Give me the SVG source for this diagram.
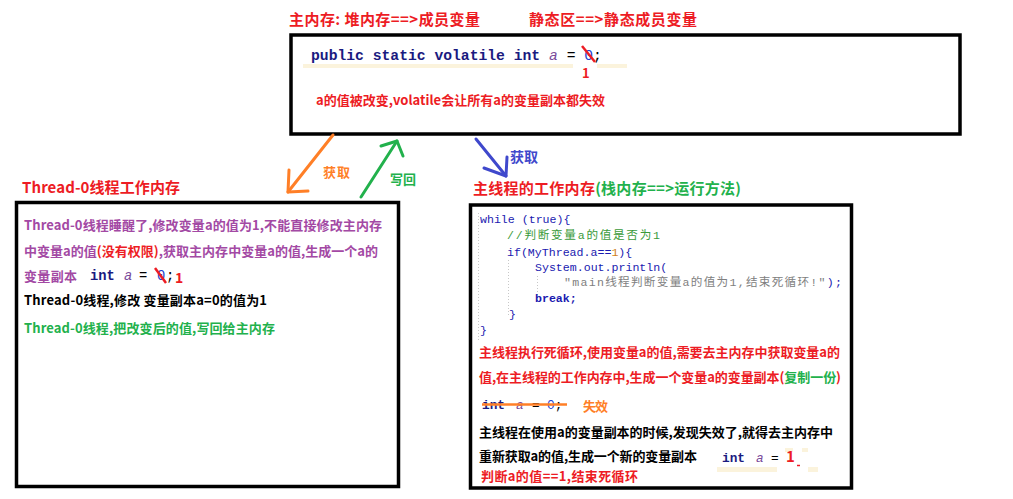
<svg xmlns="http://www.w3.org/2000/svg" width="1013" height="499" viewBox="0 0 1013 499">
<style>
.box{fill:none;stroke:#000;stroke-width:3.5}
.t{font-family:"Noto Sans CJK SC","Microsoft YaHei",sans-serif;font-weight:bold}
.code{font-family:"Liberation Mono","Noto Sans CJK SC",monospace}
.red{fill:#ED1C24}
.purple{fill:#A349A4}
.green{fill:#22B14C}
.orange{fill:#FF7F27}
.blk{fill:#000}
.kw{fill:#1a1a80;font-weight:bold}
.var{fill:#7a4a9a;font-style:italic}
.num{fill:#2040d0}
.hl{fill:#fbf3dc}
.guide{stroke:#c8c8c8;stroke-width:1;stroke-dasharray:1 2}
.arrow{fill:none;stroke-width:3;stroke-linecap:round;stroke-linejoin:round}
</style>
<rect width="1013" height="499" fill="#fff"/>

<g id="main-memory">
  <text class="t red" x="289" y="25" font-size="15" textLength="191" lengthAdjust="spacing">主内存: 堆内存==&gt;成员变量</text>
  <text class="t red" x="529" y="25" font-size="15" textLength="168" lengthAdjust="spacing">静态区==&gt;静态成员变量</text>
  <rect class="box" x="291" y="35" width="669" height="99"/>
  <rect class="hl" x="303" y="64" width="270" height="4"/>
  <rect class="hl" x="597" y="64" width="30" height="4"/>
  <text class="code" x="311" y="60" font-size="14.7"><tspan class="kw">public static volatile int </tspan><tspan class="var">a</tspan><tspan fill="#000"> = </tspan><tspan class="num">0</tspan><tspan fill="#000">;</tspan></text>
  <line x1="582" y1="46" x2="595" y2="62" stroke="#ED1C24" stroke-width="2.5"/>
  <text class="t red" x="582" y="78" font-size="13">1</text>
  <text class="t red" x="316" y="105" font-size="13" textLength="289" lengthAdjust="spacing">a的值被改变,volatile会让所有a的变量副本都失效</text>
</g>

<g id="thread0-memory">
  <text class="t red" x="22" y="193" font-size="15" textLength="158" lengthAdjust="spacing">Thread-0线程工作内存</text>
  <rect class="box" x="16.5" y="202.5" width="382" height="284"/>
  <text class="t purple" x="24" y="230" font-size="13" textLength="358" lengthAdjust="spacing">Thread-0线程睡醒了,修改变量a的值为1,不能直接修改主内存</text>
  <text class="t purple" x="24" y="256" font-size="13" textLength="354" lengthAdjust="spacing">中变量a的值<tspan class="red">(没有权限)</tspan>,获取主内存中变量a的值,生成一个a的</text>
  <text class="t purple" x="24" y="281" font-size="13" textLength="53" lengthAdjust="spacing">变量副本</text>
  <text class="code" x="90" y="280" font-size="13.8"><tspan class="kw">int</tspan><tspan x="124" class="var">a</tspan><tspan x="139" fill="#000">=</tspan><tspan x="157" class="num">0</tspan><tspan x="166" fill="#000">;</tspan></text>
  <line x1="155" y1="268" x2="166" y2="283" stroke="#ED1C24" stroke-width="2.5"/>
  <text class="t red" x="175" y="283" font-size="14">1</text>
  <text class="t blk" x="24" y="305" font-size="13" textLength="243" lengthAdjust="spacing">Thread-0线程,修改 变量副本a=0的值为1</text>
  <text class="t green" x="24" y="333" font-size="13" textLength="251" lengthAdjust="spacing">Thread-0线程,把改变后的值,写回给主内存</text>
</g>

<g id="main-thread-memory">
  <text class="t red" x="473" y="194" font-size="15" textLength="268" lengthAdjust="spacing">主线程的工作内存<tspan class="green">(栈内存==&gt;运行方法)</tspan></text>
  <rect class="box" x="470.5" y="205" width="381" height="283"/>
  <line class="guide" x1="478.5" y1="213" x2="478.5" y2="340"/>
  <line class="guide" x1="508.5" y1="260" x2="508.5" y2="316"/>
  <line class="guide" x1="537.5" y1="276" x2="537.5" y2="298"/>
  <g class="code" font-size="11.6" fill="#1a1ab0">
    <text x="480" y="223">while (true){</text>
    <text x="507" y="239" fill="#3a9a3a" textLength="153" lengthAdjust="spacing">//判断变量a的值是否为1</text>
    <text x="507" y="256">if(MyThread.a==<tspan fill="#d08020">1</tspan>){</text>
    <text x="535" y="271">System.out.println(</text>
    <text x="564" y="286" textLength="278" lengthAdjust="spacing"><tspan fill="#808080">"main线程判断变量a的值为1,结束死循环!"</tspan>);</text>
    <text x="535" y="302" font-weight="bold">break;</text>
    <text x="509" y="318">}</text>
    <text x="480" y="334">}</text>
  </g>
  <text class="t red" x="479" y="357" font-size="13" textLength="361" lengthAdjust="spacing">主线程执行死循环,使用变量a的值,需要去主内存中获取变量a的</text>
  <text class="t red" x="479" y="382" font-size="13" textLength="362" lengthAdjust="spacing">值,在主线程的工作内存中,生成一个变量a的变量副本(<tspan class="green">复制一份</tspan>)</text>
  <text class="code" x="482" y="409" font-size="12.8"><tspan class="kw">int</tspan><tspan x="516" class="var">a</tspan><tspan x="532" fill="#000">=</tspan><tspan x="547" class="num">0</tspan><tspan fill="#000">;</tspan></text>
  <line x1="482" y1="404.5" x2="567" y2="404.5" stroke="#FF7F27" stroke-width="2.5"/>
  <text class="t orange" x="583" y="411" font-size="13" textLength="25" lengthAdjust="spacing">失效</text>
  <text class="t blk" x="479" y="437" font-size="13" textLength="354" lengthAdjust="spacing">主线程在使用a的变量副本的时候,发现失效了,就得去主内存中</text>
  <text class="t blk" x="479" y="461" font-size="13" textLength="218" lengthAdjust="spacing">重新获取a的值,生成一个新的变量副本</text>
  <rect class="hl" x="717" y="467" width="60" height="5"/>
  <rect class="hl" x="808" y="467" width="10" height="5"/>
  <rect class="hl" x="785" y="448" width="8" height="4"/>
  <rect class="hl" x="802" y="448" width="6" height="4"/>
  <text class="code" x="722" y="462" font-size="12.8"><tspan class="kw">int</tspan><tspan x="756" class="var">a</tspan><tspan x="771" fill="#000">=</tspan></text>
  <text class="t red" x="786" y="462" font-size="15">1</text>
  <line x1="797" y1="465.5" x2="800" y2="465.5" stroke="#ED1C24" stroke-width="1.5"/>
  <text class="t red" x="481" y="481" font-size="13" textLength="157" lengthAdjust="spacing">判断a的值==1,结束死循环</text>
</g>

<g id="connectors">
  <g stroke="#FF7F27" class="arrow">
    <line x1="333" y1="135" x2="288" y2="192"/>
    <polyline points="289,170 288,192 308,191"/>
  </g>
  <text class="t orange" x="323" y="177" font-size="13" textLength="27" lengthAdjust="spacing">获取</text>
  <g stroke="#22B14C" class="arrow">
    <line x1="361" y1="197" x2="397" y2="141"/>
    <polyline points="381,146 397,141 403,156"/>
  </g>
  <text class="t green" x="390" y="184" font-size="13" textLength="26" lengthAdjust="spacing">写回</text>
  <g stroke="#3F48CC" class="arrow">
    <line x1="476" y1="139" x2="506" y2="176"/>
    <polyline points="484,168 506,176 507,157"/>
  </g>
  <text class="t" fill="#3F48CC" x="510" y="162" font-size="14" textLength="28" lengthAdjust="spacing">获取</text>
</g>
</svg>
